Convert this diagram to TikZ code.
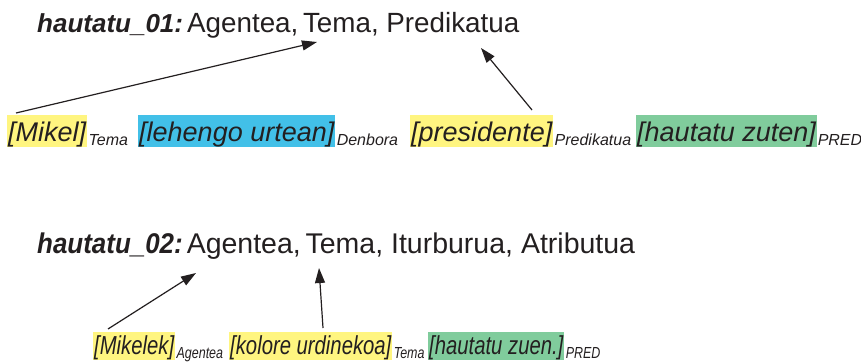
\documentclass[tikz,border=0pt]{standalone}
\usepackage{fontspec}
\setmainfont{Liberation Sans}
\newfontfamily\condfont{Liberation Sans}[FakeStretch=0.78]
\newfontfamily\condbold{Liberation Sans}[FakeStretch=0.91]
\usetikzlibrary{arrows.meta,calc}
\definecolor{hlyellow}{HTML}{FFF580}
\definecolor{hlblue}{HTML}{42C0E8}
\definecolor{hlgreen}{HTML}{80CC9C}
\definecolor{inkc}{HTML}{231F20}
\tikzset{
  title/.style={anchor=base west, inner sep=0pt, font=\fontsize{27.8}{30}\selectfont, text=inkc},
  titleb/.style={anchor=base west, inner sep=0pt, font=\fontsize{28.5}{30}\selectfont, text=inkc},
  boxa/.style={anchor=base west, inner xsep=1pt, inner ysep=0pt, text height=27pt, text depth=5pt,
     font=\itshape\fontsize{27}{30}\selectfont, text=inkc},
  boxb/.style={anchor=base west, inner xsep=1pt, inner ysep=0pt, text height=22pt, text depth=6pt,
     font=\condfont\itshape\fontsize{26}{30}\selectfont, text=inkc},
  suba/.style={anchor=base west, inner sep=0pt, font=\itshape\fontsize{16}{18}\selectfont, text=inkc},
  subb/.style={anchor=base west, inner sep=0pt, font=\condfont\itshape\fontsize{16}{18}\selectfont, text=inkc},
  arr/.style={draw=inkc, line width=1.2pt, -{Triangle[length=15pt,width=10pt]}},
}
\begin{document}
\begin{tikzpicture}[x=1pt,y=-1pt]
\useasboundingbox (0,0) rectangle (861,363);
% row 1
\node[title] (t1) at (37,33) {{\fontsize{26}{30}\selectfont\bfseries\itshape hautatu\_01:}\hspace{4pt}Agentea,\,Tema, Predikatua};
\node[boxa, fill=hlyellow] (b1) at (7,142) {[Mikel]};
\node[suba] (s1) at ($(b1.base east)+(1,4)$) {Tema};
\node[boxa, fill=hlblue] (b2) at (138,142) {[lehengo urtean]};
\node[suba] (s2) at ($(b2.base east)+(1,4)$) {Denbora};
\node[boxa, fill=hlyellow] (b3) at (410,142) {[presidente]};
\node[suba] (s3) at ($(b3.base east)+(1,4)$) {Predikatua};
\node[boxa, fill=hlgreen] (b4) at (636,142) {[hautatu zuten]};
\node[suba] (s4) at ($(b4.base east)+(0.5,4)$) {PRED};
\coordinate (a1s) at (16,113);
\coordinate (a1e) at (317,42);
\coordinate (a2s) at (532,110);
\coordinate (a2e) at (481,48);
\draw[arr] (a1s) -- (a1e);
\draw[arr] (a2s) -- (a2e);
% row 2
\node[titleb] (t2) at (37,253) {{\condbold\bfseries\itshape hautatu\_02:}\hspace{4pt}Agentea,\,Tema, Iturburua, Atributua};
\node[boxb, fill=hlyellow] (c1) at (93,354) {[Mikelek]};
\node[subb] (r1) at ($(c1.base east)+(1,4)$) {Agentea};
\node[boxb, fill=hlyellow] (c2) at (229,354) {[kolore urdinekoa]};
\node[subb] (r2) at ($(c2.base east)+(1,4)$) {Tema};
\node[boxb, fill=hlgreen] (c3) at (428,354) {[hautatu zuen.]};
\node[subb] (r3) at ($(c3.base east)+(1,4)$) {PRED};
\coordinate (a3s) at (108,329);
\coordinate (a3e) at (196,273);
\coordinate (a4s) at (323,328);
\coordinate (a4e) at (319,268);
\draw[arr] (a3s) -- (a3e);
\draw[arr] (a4s) -- (a4e);
\end{tikzpicture}
\end{document}
